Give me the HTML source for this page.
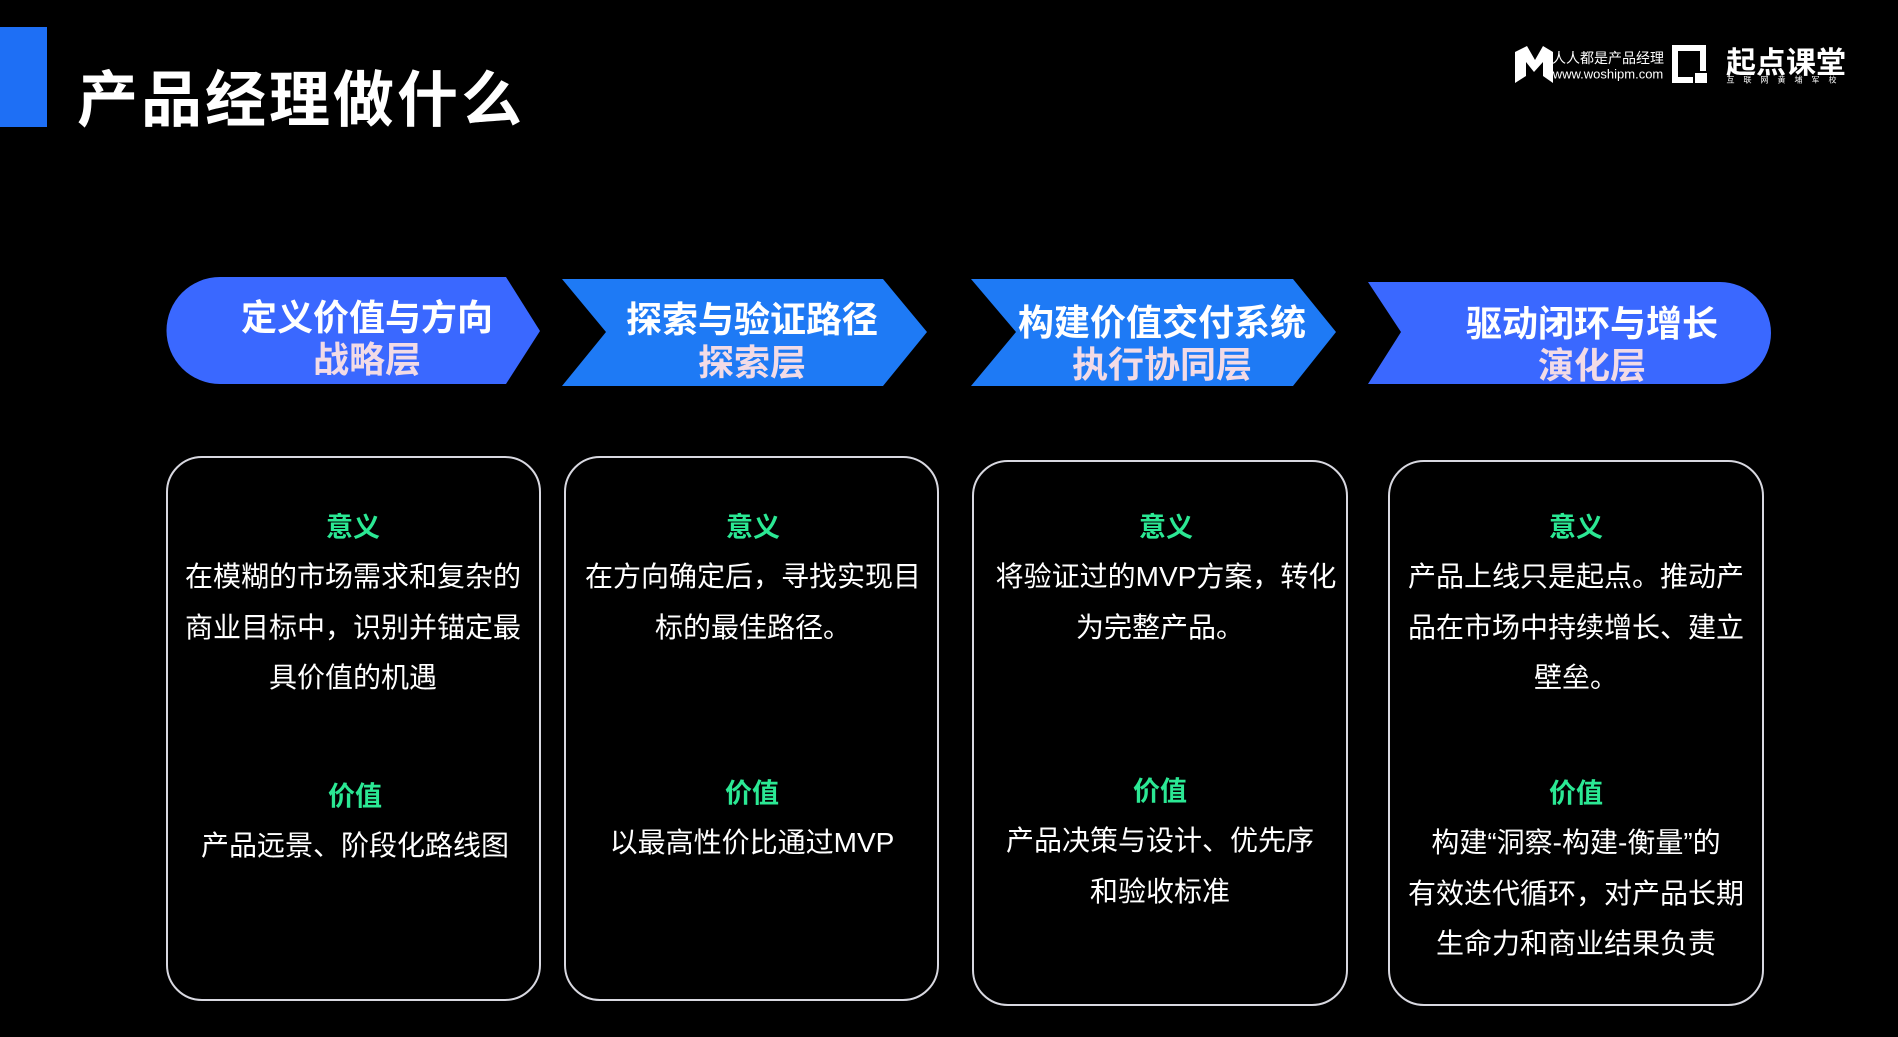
<!DOCTYPE html>
<html><head><meta charset="utf-8"><style>
body{margin:0;width:1898px;height:1037px;background:#000;overflow:hidden;position:relative;font-family:"Liberation Sans","Noto Sans CJK SC",sans-serif;}
.t{position:absolute;transform:translate(-50%,-50%);white-space:nowrap;color:#fff;}
.h1{font-size:36px;font-weight:bold;}
.h2{font-size:36px;font-weight:bold;color:#f2dbe6;}
.g{font-size:27px;font-weight:bold;color:#2be894;}
.b{font-size:28px;}
.card{position:absolute;border:2px solid #d8d8e0;border-radius:36px;box-sizing:border-box;}
</style></head><body>
<div style="position:absolute;left:0;top:27px;width:47px;height:100px;background:#1e6ff5"></div>
<div style="position:absolute;left:77px;top:50px;font-size:61px;font-weight:bold;color:#fff;letter-spacing:3px">产品经理做什么</div>
<svg style="position:absolute;left:0;top:0" width="1898" height="1037">
<path d="M1515 83 L1515 52 L1527 46 L1535 60 L1543 46 L1553 52 L1553 83 L1543 76 L1543 62 L1534 72 L1526 62 L1526 76 Z" fill="#fff"/>
<rect x="1675" y="48" width="28" height="32" fill="none" stroke="#fff" stroke-width="6"/>
<rect x="1694" y="72" width="14" height="12" fill="#fff" stroke="#000" stroke-width="2"/>
<path d="M220 277 L506 277 L540 331 L506 384 L220 384 A53 53 0 0 1 220 277 Z" fill="#3a68ff"/>
<path d="M562 279 L883 279 L927 332 L883 386 L562 386 L606 332 Z" fill="#1e7af5"/>
<path d="M971 279 L1293 279 L1336 332 L1293 386 L971 386 L1016 332 Z" fill="#1e7af5"/>
<path d="M1368 282 L1720 282 A51 51 0 0 1 1720 384 L1368 384 L1401 332 Z" fill="#3a68ff"/>
</svg>
<div class="t" style="left:1608px;top:58px;font-size:14px">人人都是产品经理</div>
<div class="t" style="left:1608px;top:74px;font-size:13px">www.woshipm.com</div>
<div class="t" style="left:1786px;top:60px;font-size:30px;font-weight:bold">起点课堂</div>
<div class="t" style="left:1786px;top:80px;font-size:8px;letter-spacing:9px">互联网黄埔军校</div>

<div class="t h1" style="left:367px;top:315px">定义价值与方向</div>
<div class="t h2" style="left:367px;top:357px">战略层</div>
<div class="t h1" style="left:752px;top:317px">探索与验证路径</div>
<div class="t h2" style="left:752px;top:360px">探索层</div>
<div class="t h1" style="left:1162px;top:320px">构建价值交付系统</div>
<div class="t h2" style="left:1162px;top:362px">执行协同层</div>
<div class="t h1" style="left:1592px;top:321px">驱动闭环与增长</div>
<div class="t h2" style="left:1592px;top:363px">演化层</div>

<div class="card" style="left:166px;top:456px;width:375px;height:545px"></div>
<div class="card" style="left:564px;top:456px;width:375px;height:545px"></div>
<div class="card" style="left:972px;top:460px;width:376px;height:546px"></div>
<div class="card" style="left:1388px;top:460px;width:376px;height:546px"></div>

<div class="t g" style="left:353px;top:525px">意义</div>
<div class="t b" style="left:353px;top:575px">在模糊的市场需求和复杂的</div>
<div class="t b" style="left:353px;top:626px">商业目标中，识别并锚定最</div>
<div class="t b" style="left:353px;top:676px">具价值的机遇</div>
<div class="t g" style="left:355px;top:794px">价值</div>
<div class="t b" style="left:355px;top:844px">产品远景、阶段化路线图</div>

<div class="t g" style="left:753px;top:525px">意义</div>
<div class="t b" style="left:753px;top:575px">在方向确定后，寻找实现目</div>
<div class="t b" style="left:753px;top:626px">标的最佳路径。</div>
<div class="t g" style="left:752px;top:791px">价值</div>
<div class="t b" style="left:752px;top:841px">以最高性价比通过MVP</div>

<div class="t g" style="left:1166px;top:525px">意义</div>
<div class="t b" style="left:1166px;top:575px">将验证过的MVP方案，转化</div>
<div class="t b" style="left:1160px;top:626px">为完整产品。</div>
<div class="t g" style="left:1160px;top:789px">价值</div>
<div class="t b" style="left:1160px;top:839px">产品决策与设计、优先序</div>
<div class="t b" style="left:1160px;top:890px">和验收标准</div>

<div class="t g" style="left:1576px;top:525px">意义</div>
<div class="t b" style="left:1576px;top:575px">产品上线只是起点。推动产</div>
<div class="t b" style="left:1576px;top:626px">品在市场中持续增长、建立</div>
<div class="t b" style="left:1576px;top:676px">壁垒。</div>
<div class="t g" style="left:1576px;top:791px">价值</div>
<div class="t b" style="left:1576px;top:841px">构建“洞察-构建-衡量”的</div>
<div class="t b" style="left:1576px;top:892px">有效迭代循环，对产品长期</div>
<div class="t b" style="left:1576px;top:942px">生命力和商业结果负责</div>
</body></html>
